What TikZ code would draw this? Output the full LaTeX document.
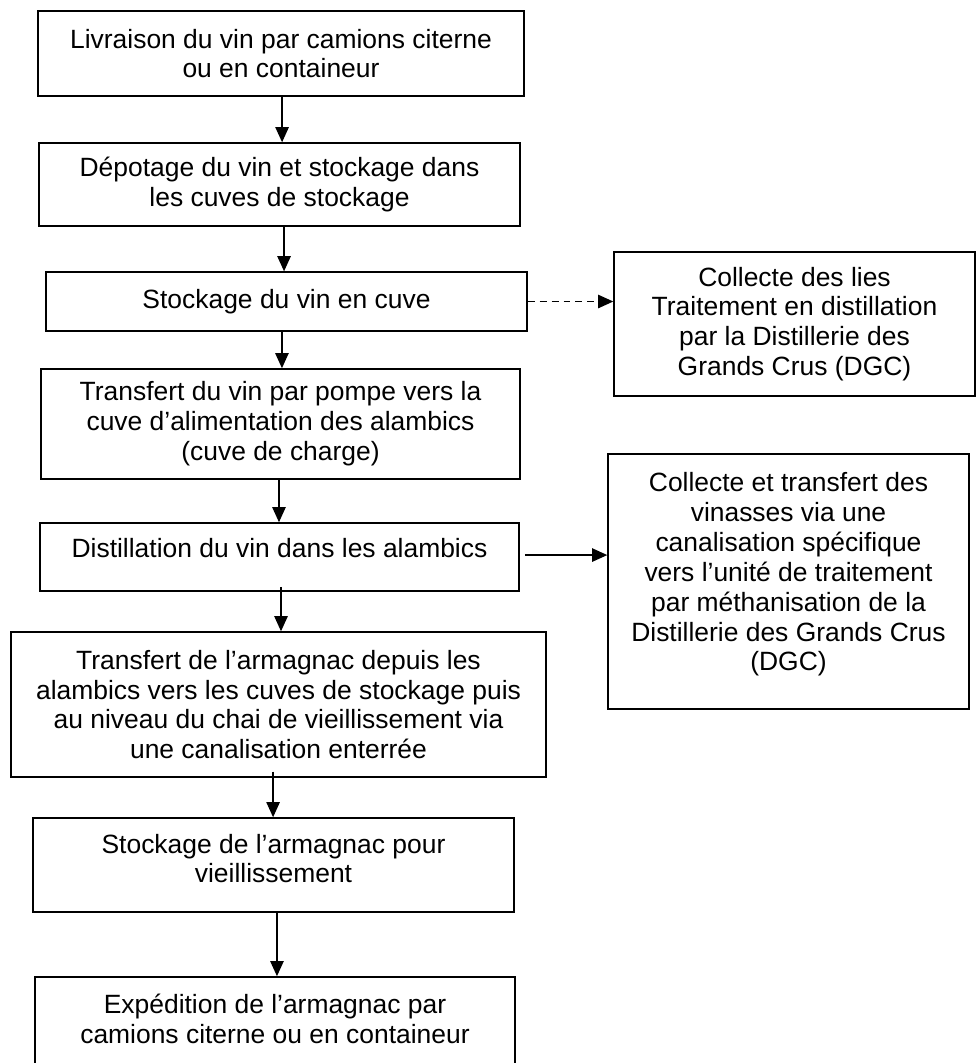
\documentclass[tikz,border=0pt]{standalone}
\usepackage{fontspec}
\setmainfont{Liberation Sans}
\usetikzlibrary{arrows.meta}

\begin{document}
\begin{tikzpicture}[x=0.46154pt, y=-0.46154pt,
    box/.style={draw, line width=0.7pt, rectangle, align=center, inner sep=0pt,
      font=\fontsize{12.2pt}{13.8pt}\selectfont},
    arr/.style={line width=0.6pt, -{Triangle[length=7pt, width=6.2pt]}}]
    \useasboundingbox (0,0) rectangle (978,1063);
    \clip (0,0) rectangle (978,1063);

    \node[box, minimum width=224.3pt, minimum height=39.2pt] (livraison) at (281,53.5)
      {Livraison du vin par camions citerne\\ou en containeur};
    \node[box, minimum width=222pt, minimum height=38.3pt] (depotage) at (279.5,184.5)
      {Dépotage du vin et stockage dans\\les cuves de stockage};
    \node[box, minimum width=222pt, minimum height=27.2pt] (stockvin) at (286.5,301.5)
      {Stockage du vin en cuve};
    \node[box, minimum width=221.1pt, minimum height=50.8pt] (pompe) at (280.5,424)
      {Transfert du vin par pompe vers la\\cuve d’alimentation des alambics\\(cuve de charge)};
    \node[box, minimum width=221.1pt, minimum height=31.4pt, text height=8.3pt, text depth=7.4pt] (distil) at (279.5,557)
      {Distillation du vin dans les alambics};
    \node[box, minimum width=246.9pt, minimum height=66.9pt] (transarm) at (278.5,704.5)
      {Transfert de l’armagnac depuis les\\alambics vers les cuves de stockage puis\\au niveau du chai de vieillissement via\\une canalisation enterrée};
    \node[box, minimum width=222pt, minimum height=43.4pt, text height=19.8pt, text depth=3.2pt] (vieil) at (273.5,865)
      {Stockage de l’armagnac pour\\vieillissement};
    \node[box, minimum width=221.5pt, minimum height=46.2pt, text height=18pt, text depth=3.2pt] (expedition) at (275,1027)
      {Expédition de l’armagnac par\\camions citerne ou en containeur};

    \node[box, minimum width=166.6pt, minimum height=66.5pt] (lies) at (794.5,324)
      {Collecte des lies\\Traitement en distillation\\par la Distillerie des\\Grands Crus (DGC)};
    \node[box, minimum width=166.6pt, minimum height=117.7pt, text height=85.8pt, text depth=3.2pt] (vinasses) at (788.5,581.5)
      {Collecte et transfert des\\vinasses via une\\canalisation spécifique\\vers l’unité de traitement\\par méthanisation de la\\Distillerie des Grands Crus\\(DGC)};

    \draw[arr] ([xshift=0.5pt]livraison.south) -- ([xshift=0.5pt]livraison.south |- depotage.north);
    \draw[arr] ([xshift=2.1pt]depotage.south) -- ([xshift=2.1pt]depotage.south |- stockvin.north);
    \draw[arr] ([xshift=-2.1pt]stockvin.south) -- ([xshift=-2.1pt]stockvin.south |- pompe.north);
    \draw[arr] ([xshift=-0.7pt]pompe.south) -- ([xshift=-0.7pt]pompe.south |- distil.north);
    \draw[arr] ([xshift=0.7pt, yshift=2.3pt]distil.south) -- ([xshift=0.7pt]distil.south |- transarm.north);
    \draw[arr] ([xshift=-2.5pt, yshift=2.8pt]transarm.south) -- ([xshift=-2.5pt]transarm.south |- vieil.north);
    \draw[arr] ([xshift=1.6pt]vieil.south) -- ([xshift=1.6pt]vieil.south |- expedition.north);

    \draw[arr, dash pattern=on 3.2pt off 2.3pt] (stockvin.east) -- (stockvin.east -| lies.west);
    \draw[arr] ([xshift=2.3pt, yshift=0.9pt]distil.east) -- ([yshift=0.9pt]distil.east -| vinasses.west);
\end{tikzpicture}
\end{document}
